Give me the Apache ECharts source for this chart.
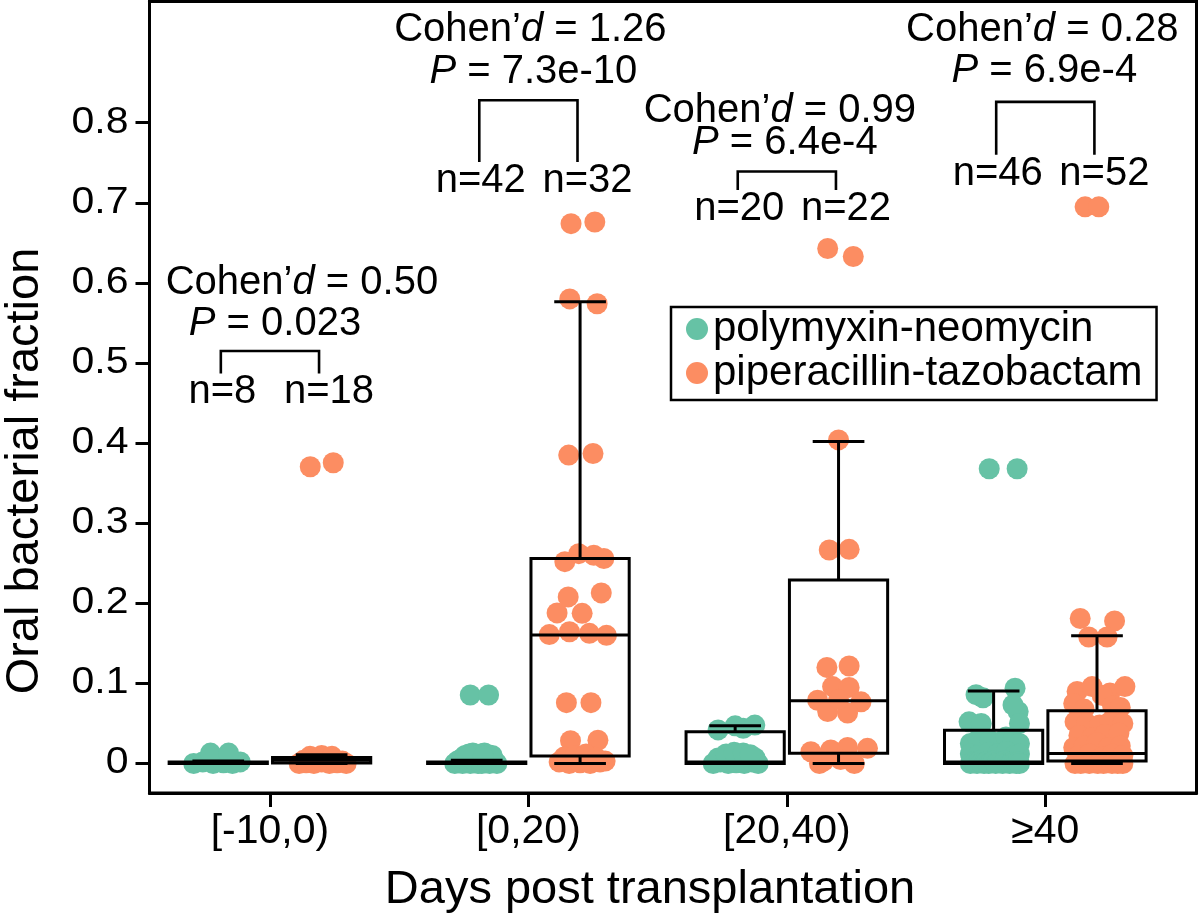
<!DOCTYPE html>
<html><head><meta charset="utf-8">
<script src="https://cdn.jsdelivr.net/npm/echarts/dist/echarts.min.js"></script>
<style>html,body{margin:0;padding:0;background:#fff}#c{width:1200px;height:919px}</style>
</head><body><div id="c"></div>
<script>
// ---------------- data ----------------
const categories = ['[-10,0)', '[0,20)', '[20,40)', '≥40'];
const seriesNames = ['polymyxin-neomycin', 'piperacillin-tazobactam'];
const yTicks = [0, 0.1, 0.2, 0.3, 0.4, 0.5, 0.6, 0.7, 0.8];
const cohenD = ['0.50', '1.26', '0.99', '0.28'];
const pValues = ['0.023', '7.3e-10', '6.4e-4', '6.9e-4'];
const nNeo = [8, 42, 20, 46];
const nPip = [18, 32, 22, 52];
const bracketTop = [0.515, 0.828, 0.739, 0.826];
const bracketFoot = [0.487, 0.751, 0.716, 0.760];

// box statistics: [lower whisker, Q1, median, Q3, upper whisker]
const neoBox = [
  [0, 0, 0.001, 0.002, 0.003],
  [0, 0, 0.001, 0.002, 0.004],
  [0, 0, 0.002, 0.0397, 0.047],
  [0, 0, 0.002, 0.0415, 0.0905]
];
const pipBox = [
  [0, 0.0005, 0.004, 0.0075, 0.011],
  [0, 0.0094, 0.1604, 0.256, 0.5765],
  [0, 0.0127, 0.0784, 0.229, 0.402],
  [0, 0.003, 0.0125, 0.066, 0.1596]
];

// individual samples: horizontal jitter (category units, relative to box centre) and values
const neoJitter = [
  [-0.095, -0.06, -0.02, 0.02, 0.055, 0.085, -0.03, 0.04],
  [-0.085, -0.07, -0.055, -0.04, -0.025, -0.01, 0.005, 0.02, 0.035, 0.05, 0.065, 0.078, -0.075, -0.045, -0.015, 0.01,
   -0.065, -0.05, -0.035, -0.02, -0.005, 0.01, 0.025, 0.04, 0.055, 0.07, -0.055, -0.025, 0.005, 0.045,
   -0.045, -0.03, -0.015, 0, 0.015, 0.03, 0.045, 0.06, -0.035, 0.025,
   -0.025, 0.046],
  [-0.085, -0.058, -0.027, 0.004, 0.035, 0.066, 0.089, -0.066, -0.035, 0.012, 0.05, 0.077,
   -0.035, -0.004, 0.031, 0.058, -0.066, 0, 0.031, 0.076],
  [-0.068, 0.083, -0.041, 0.095, 0.075, 0.1, -0.095, -0.048,
   -0.09, -0.06, -0.014, 0.048, 0.075, 0.1,
   -0.09, -0.06, -0.02, 0.015, 0.05, 0.08, 0.1,
   -0.09, -0.082, -0.073, -0.064, -0.055, -0.046, -0.037, -0.028, -0.019, -0.01, -0.001, 0.008, 0.017, 0.026, 0.035, 0.044, 0.053, 0.062, 0.071, 0.08, 0.088, 0.095, 0.1,
   -0.017, 0.091]
];
const neoValues = [
  [0.000, 0.002, 0.000, 0.001, 0.000, 0.002, 0.013, 0.013],
  [0, 0.001, 0, 0.002, 0, 0.001, 0, 0, 0.001, 0, 0.002, 0, 0.003, 0.001, 0.002, 0.001,
   0.004, 0.005, 0.003, 0.006, 0.004, 0.005, 0.006, 0.004, 0.005, 0.003, 0.007, 0.007, 0.006, 0.006,
   0.010, 0.012, 0.013, 0.011, 0.012, 0.013, 0.011, 0.010, 0.009, 0.009,
   0.0855, 0.0855],
  [0, 0.002, 0, 0.001, 0, 0.002, 0, 0.007, 0.008, 0.006, 0.009, 0.007,
   0.012, 0.014, 0.013, 0.011, 0.042, 0.047, 0.044, 0.048],
  [0.086, 0.094, 0.082, 0.065, 0.073, 0.05, 0.052, 0.05,
   0.025, 0.03, 0.029, 0.033, 0.03, 0.025,
   0.012, 0.01, 0.014, 0.012, 0.015, 0.01, 0.012,
   0, 0.002, 0.001, 0, 0.003, 0.001, 0, 0.002, 0, 0.001, 0.003, 0, 0.002, 0.001, 0, 0.003, 0.001, 0, 0.002, 0.001, 0, 0.002, 0,
   0.368, 0.368]
];
const pipJitter = [
  [-0.087, -0.06, -0.03, 0, 0.03, 0.06, 0.095, -0.07, -0.04, -0.01, 0.02, 0.05, 0.08, -0.045, 0.0, 0.04, -0.044, 0.045],
  [-0.044, 0.05, -0.059, -0.005, 0.053, 0.092, -0.046, 0.082, -0.089, 0.008, -0.119, -0.041, 0.036, 0.102,
   -0.035, 0.057, -0.04, 0.066, -0.053, 0.042, -0.037, 0.069,
   -0.081, -0.042, 0, 0.039, 0.077, 0.097, -0.062, -0.019, 0.023, 0.062],
  [-0.042, 0.057, 0, -0.036, 0.041, -0.045, 0.041, -0.023, 0.041, -0.081, 0.087, -0.042, 0.035, 0.0,
   -0.107, -0.03, 0.035, 0.112, -0.074, 0.061, 0.008, -0.058],
  [-0.046, 0.007, -0.065, 0.068, -0.032, 0.039,
   -0.077, -0.019, 0.05, 0.108, 0.02,
   -0.09, 0.06, 0.09, -0.05,
   -0.085, -0.04, 0.01, 0.05, 0.1,
   -0.07, -0.02, 0.03, 0.085,
   -0.09, -0.05, 0, 0.045, 0.09,
   -0.07, -0.03, 0.02, 0.06, 0.1,
   -0.085, -0.074, -0.063, -0.052, -0.041, -0.03, -0.019, -0.008, 0.003, 0.014, 0.025, 0.036, 0.047, 0.058, 0.069, 0.08, 0.09, 0.1]
];
const pipValues = [
  [0.000, 0.001, 0.000, 0.002, 0.000, 0.001, 0.000, 0.004, 0.005, 0.006, 0.005, 0.004, 0.003, 0.009, 0.010, 0.009, 0.3705, 0.3755],
  [0.385, 0.387, 0.252, 0.262, 0.260, 0.256, 0.208, 0.213, 0.188, 0.1875, 0.161, 0.1645, 0.1625, 0.160,
   0.674, 0.676, 0.580, 0.574, 0.076, 0.076, 0.0285, 0.029,
   0.002, 0, 0.001, 0, 0.002, 0.003, 0.008, 0.01, 0.012, 0.007],
  [0.643, 0.633, 0.404, 0.2665, 0.2674, 0.120, 0.1217, 0.096, 0.095, 0.079, 0.077, 0.065, 0.063, 0.08,
   0.0147, 0.017, 0.020, 0.019, 0.0, 0.0, 0.005, 0.003],
  [0.695, 0.695, 0.181, 0.178, 0.158, 0.158,
   0.09, 0.096, 0.088, 0.096, 0.085,
   0.075, 0.072, 0.07, 0.068,
   0.052, 0.05, 0.048, 0.052, 0.05,
   0.035, 0.032, 0.036, 0.038,
   0.02, 0.022, 0.026, 0.02, 0.022,
   0.01, 0.012, 0.008, 0.012, 0.01,
   0, 0.002, 0, 0.001, 0.003, 0, 0.002, 0.001, 0, 0.002, 0, 0.001, 0.003, 0, 0.002, 0, 0.001, 0]
];

// ---------------- layout / style ----------------
const FONT = '"Liberation Sans", Arial, Helvetica, sans-serif';
const GREEN = '#66c2a5', ORANGE = '#fc8d62';
const X_MIN = -0.466, X_MAX = 3.585, Y_MIN = -0.0368, Y_MAX = 0.9513;
const SIDE = 0.2, BOX_HALF = 0.19, CAP_HALF = 0.1, LEG = 0.19;
const LW = 3;
const cohenShift = [32, 2, -7, -3], cohenDy = [-68, -70, -61, -72];
const pShift = [5, 5, -2, -1], pDy = [-27, -28, -29, -31];

function pointsFor(jit, vals, side) {
  const out = [];
  jit.forEach((arr, g) => arr.forEach((d, k) => out.push([g + side * SIDE + d, vals[g][k]])));
  return out;
}
function boxesFor(stats, side) {
  return stats.map((s, g) => [g + side * SIDE].concat(s));
}

function renderBox(params, api) {
  const x = api.value(0), low = api.value(1), q1 = api.value(2), med = api.value(3), q3 = api.value(4), high = api.value(5);
  const st = { stroke: '#000', lineWidth: LW, fill: null };
  const seg = (x1, y1, x2, y2) => {
    const a = api.coord([x1, y1]), b = api.coord([x2, y2]);
    return { type: 'line', shape: { x1: a[0], y1: a[1], x2: b[0], y2: b[1] }, style: st };
  };
  const tl = api.coord([x - BOX_HALF, q3]), br = api.coord([x + BOX_HALF, q1]);
  return { type: 'group', children: [
    seg(x, q3, x, high), seg(x - CAP_HALF, high, x + CAP_HALF, high),
    seg(x, q1, x, low), seg(x - CAP_HALF, low, x + CAP_HALF, low),
    { type: 'rect', shape: { x: tl[0], y: tl[1], width: br[0] - tl[0], height: br[1] - tl[1] }, style: st },
    seg(x - BOX_HALF, med, x + BOX_HALF, med)
  ]};
}

function txt(x, y, text, extra) {
  return Object.assign({ type: 'text', x: x, y: y, style: {
    text: text, fill: '#000', fontSize: 40, fontFamily: FONT, align: 'center', verticalAlign: 'middle',
    rich: { i: { fontStyle: 'italic', fontSize: 40, fontFamily: FONT, fill: '#000' } }
  }}, extra || {});
}

function renderAnnot(params, api) {
  const g = api.value(0);
  const L = api.coord([g - LEG, bracketTop[g]]), R = api.coord([g + LEG, bracketTop[g]]);
  const Lb = api.coord([g - LEG, bracketFoot[g]]), Rb = api.coord([g + LEG, bracketFoot[g]]);
  const cx = api.coord([g, 0])[0];
  return { type: 'group', children: [
    { type: 'polyline', shape: { points: [Lb, L, R, Rb] }, style: { stroke: '#000', lineWidth: 2.6, fill: null } },
    txt(cx + cohenShift[g], L[1] + cohenDy[g], 'Cohen’{i|d} = ' + cohenD[g]),
    txt(cx + pShift[g], L[1] + pDy[g], '{i|P} = ' + pValues[g]),
    txt(Lb[0] + 1.5, Lb[1] + 19, 'n=' + nNeo[g]),
    txt(Rb[0] + 10, Rb[1] + 19, 'n=' + nPip[g])
  ]};
}

function renderYLabel(params, api) {
  const v = api.value(1);
  const p = api.coord([X_MIN, v]);
  return { type: 'text', x: p[0] - 21, y: p[1], scaleY: 0.88, style: {
    text: v === 0 ? '0' : v.toFixed(1), fill: '#000', fontSize: 41, fontFamily: FONT, align: 'right', verticalAlign: 'middle'
  }};
}

const chart = echarts.init(document.getElementById('c'), null, { renderer: 'canvas' });
chart.setOption({
  animation: false,
  backgroundColor: '#fff',
  grid: { left: 149.5, top: 1.5, width: 1047, height: 791.5, show: true, borderColor: '#000', borderWidth: LW, backgroundColor: 'transparent' },
  xAxis: {
    type: 'value', min: X_MIN, max: X_MAX, splitLine: { show: false },
    axisLine: { onZero: false, lineStyle: { color: '#000', width: LW } },
    axisTick: { customValues: [0, 1, 2, 3], length: 14, lineStyle: { color: '#000', width: LW } },
    axisLabel: { customValues: [0, 1, 2, 3], formatter: v => categories[Math.round(v)], color: '#000', fontSize: 41, fontFamily: FONT, margin: 18 }
  },
  yAxis: {
    type: 'value', min: Y_MIN, max: Y_MAX, splitLine: { show: false },
    axisLine: { onZero: false, lineStyle: { color: '#000', width: LW } },
    axisTick: { customValues: yTicks, length: 14, lineStyle: { color: '#000', width: LW } },
    axisLabel: { show: false }
  },
  legend: {
    data: seriesNames, left: 671, top: 307, orient: 'vertical', icon: 'circle',
    itemWidth: 22, itemHeight: 22, itemGap: 2, padding: [1, 14, 6, 15],
    borderColor: '#000', borderWidth: 2.5, backgroundColor: '#fff',
    textStyle: { color: '#000', fontSize: 42, fontFamily: FONT, lineHeight: 40 }
  },
  graphic: [
    { type: 'text', x: 25, y: 471, rotation: Math.PI / 2, style: { text: 'Oral bacterial fraction', fill: '#000', fontSize: 47, fontFamily: FONT, align: 'center', verticalAlign: 'middle' } },
    { type: 'text', x: 650, y: 890, style: { text: 'Days post transplantation', fill: '#000', fontSize: 47, fontFamily: FONT, align: 'center', verticalAlign: 'middle' } }
  ],
  series: [
    { name: seriesNames[0], type: 'scatter', data: pointsFor(neoJitter, neoValues, -1), symbolSize: 21, itemStyle: { color: GREEN, opacity: 1 }, z: 2 },
    { name: seriesNames[1], type: 'scatter', data: pointsFor(pipJitter, pipValues, 1), symbolSize: 21, itemStyle: { color: ORANGE, opacity: 1 }, z: 2 },
    { type: 'custom', name: 'neoBox', renderItem: renderBox, data: boxesFor(neoBox, -1), z: 3, clip: false, silent: true },
    { type: 'custom', name: 'pipBox', renderItem: renderBox, data: boxesFor(pipBox, 1), z: 3, clip: false, silent: true },
    { type: 'custom', name: 'annot', renderItem: renderAnnot, data: categories.map((c, i) => [i, 0]), z: 4, clip: false, silent: true },
    { type: 'custom', name: 'ylab', renderItem: renderYLabel, data: yTicks.map(v => [X_MIN, v]), z: 4, clip: false, silent: true }
  ]
});
</script>
</body></html>
